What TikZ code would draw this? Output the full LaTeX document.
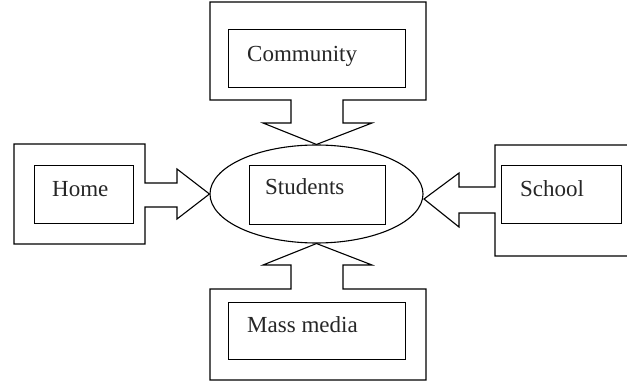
\documentclass[tikz,border=0pt]{standalone}
\usepackage{fontspec}
\setmainfont{Liberation Serif}
\usetikzlibrary{shapes.geometric}
\begin{document}
\begin{tikzpicture}[x=1pt,y=-1pt,
  line/.style={draw=black,line width=1.1pt,line join=miter},
  inbox/.style={draw=black,line width=1.1pt,rectangle,inner sep=0pt,anchor=north west},
  lbl/.style={anchor=base west,inner sep=0pt,font=\fontsize{23}{26}\selectfont,text=black!85}]
\useasboundingbox (0,0) rectangle (627,382);
% centre
\node[ellipse,draw=black,line width=1.1pt,minimum width=213pt,minimum height=98pt,inner sep=0pt] (stu) at (316.5,194) {};
\node[inbox,minimum width=136pt,minimum height=59pt] (stubox) at (249,165) {};
\node[lbl] (stut) at (265,195) {Students};
% community
\node[inbox,minimum width=177pt,minimum height=58pt] (com) at (228,29) {};
\node[lbl] (comt) at (247,62) {Community};
\draw[line] (291,100) -- (291,123) -- (263,123) -- (stu.north) -- (372,123) -- (343,123) -- (343,100)
  -- (426,100) -- (426,2) -- (210,2) -- (210,100) -- cycle;
% home
\node[inbox,minimum width=99pt,minimum height=58pt] (home) at (34,165) {};
\node[lbl] (homet) at (52,197) {Home};
\draw[line] (145,183) -- (177,183) -- (177,169) -- (stu.west) -- (177,219) -- (177,207) -- (145,207)
  -- (145,244) -- (14,244) -- (14,144) -- (145,144) -- cycle;
% school
\node[inbox,minimum width=120pt,minimum height=58pt] (school) at (501,165) {};
\node[lbl] (schoolt) at (520,197) {School};
\coordinate (stE) at (424,199);
\draw[line] (628,145) -- (495,145) -- (495,187) -- (459,187) -- (459,173) -- (stE) -- (459,227) -- (459,213)
  -- (495,213) -- (495,256) -- (628,256);
% mass media
\node[inbox,minimum width=177pt,minimum height=57pt] (mass) at (228,302) {};
\node[lbl] (masst) at (247,332) {Mass media};
\draw[line] (291,289) -- (291,265) -- (263,265) -- (stu.south) -- (372,265) -- (343,265) -- (343,289)
  -- (426,289) -- (426,380) -- (210,380) -- (210,289) -- cycle;
\end{tikzpicture}
\end{document}
